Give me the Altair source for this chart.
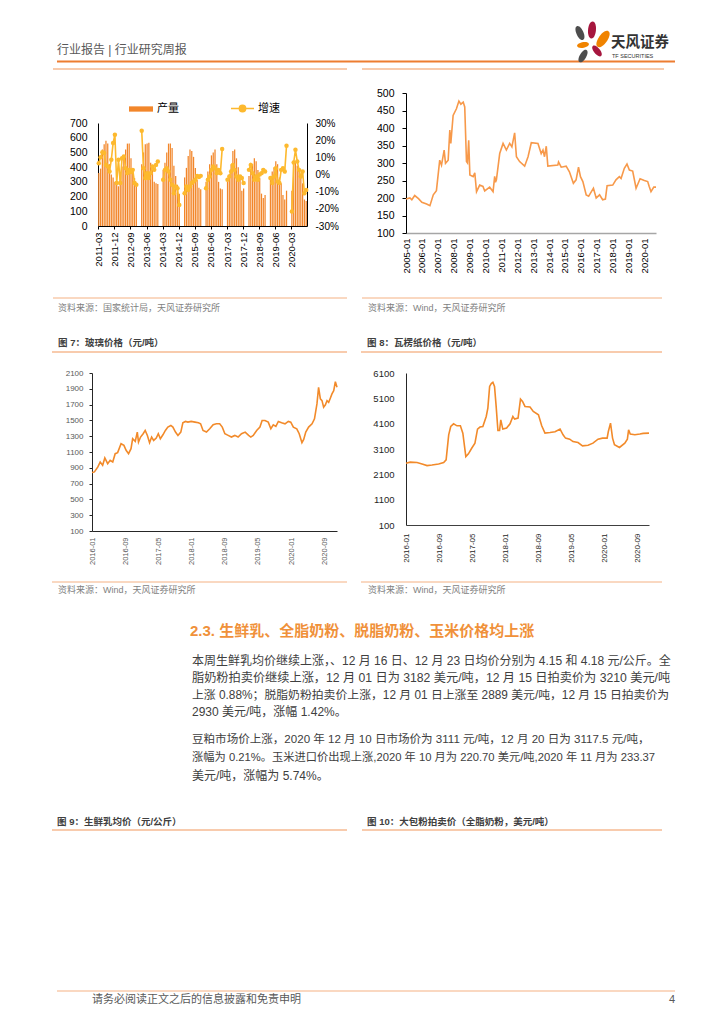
import altair as alt
import pandas as pd

NUM = "Liberation Sans"
MIX = "Liberation Sans, Noto Sans CJK SC"
ORANGE = "#ED7D31"
LIGHT = "#F8CBAD"
SRC_LINE = "#F4B183"

# ---------------- data ----------------
# top-left: 产量 (bars) and 增速 (%, line), monthly 2011-03 .. 2020-11
tl_prod = [
    360, 390, 520, 555, 580, 560, 420, 350, 330, 300,
    300, 270, 360, 405, 475, 520, 560, 560, 460, 380, 325, 290,
    None, None, 420, 500, 555, 560, 565, 430, 380, 300, 290, 285,
    None, None, 380, 430, 500, 560, 560, 530, 410, 340, 280, 220,
    None, None, 330, 395, 475, 520, 510, 470, 395, 315, 260, 250,
    None, None, 300, 370, 420, 480, 500, 520, 420, 300, 255, 250,
    None, None, 300, 350, 420, 510, 520, 460, 400, 320, 240, 255,
    None, None, 340, 380, 420, 460, 440, 380, 330, 220, 190, 210,
    None, None, 330, 370, 400, 440, 420, 330, 290, 210, 180, 240,
    None, None, 240, 420, 430, 410, 380, 330, 290, 180, 170,
]
tl_growth = [
    6.6, 10.0, 12.9, 12.5, 5.6, 4.7, 1.8, 8.6, 18.3, 23.2,
    -5.0, 8.6, -5.0, 9.5, 10.5, 3.7, 0.8, 2.7, 1.5, 2.7, -5.0, -6.0,
    None, None, 25.5, 3.7, -2.1, 0.8, -2.1, 0.8, 4.7, 2.7, 5.6, 7.6,
    None, None, -3.1, 2.7, 3.7, 1.8, -3.1, -6.0, -10.9, -7.0, -8.0, -17.7,
    None, None, -10.9, -7.0, -9.0, -7.0, -5.0, -4.1, -3.1, -0.8, -1.5, -0.8,
    None, None, -8.0, -3.1, -1.2, 2.7, 4.7, 3.7, 0.8, 2.7, 0.8, 14.8,
    None, None, -3.1, -1.2, 1.8, 5.6, 2.7, -1.2, -3.1, -1.2, -2.1, -5.0,
    None, None, 2.7, 5.6, 0.8, -3.1, -1.2, -3.1, 0.0, 0.8, 2.7, 1.8,
    None, None, -2.1, -5.0, -1.2, 3.7, -4.1, -5.0, 2.7, 3.7, 1.8, 16.8,
    None, None, -21.6, 7.0, 14.4, 7.6, 2.7, -1.2, 1.8, -10.9, -9.0,
]
tl_months = list(pd.period_range("2011-03", "2020-11", freq="M").strftime("%Y-%m"))
tl_ticks = ["2011-03", "2011-12", "2012-09", "2013-06", "2014-03", "2014-12", "2015-09",
            "2016-06", "2017-03", "2017-12", "2018-09", "2019-06", "2020-03"]
tl_left_ticks = [0, 100, 200, 300, 400, 500, 600, 700]
tl_right_ticks = [-30, -20, -10, 0, 10, 20, 30]

# top-right: price series 2005-2020
tr_dates = ["2005-01-01", "2005-04-01", "2005-05-15", "2005-07-20", "2005-10-15", "2006-01-01",
            "2006-04-20", "2006-07-05", "2006-09-20", "2006-12-01", "2007-02-15", "2007-03-28",
            "2007-05-28", "2007-06-28", "2007-08-28", "2007-10-05", "2007-10-28", "2007-12-20",
            "2008-03-05", "2008-05-01", "2008-06-15", "2008-08-08", "2008-09-12", "2008-10-22",
            "2008-11-14", "2008-12-12", "2009-01-08", "2009-03-25", "2009-05-01", "2009-06-10",
            "2009-08-22", "2009-11-05", "2009-12-15", "2010-04-08", "2010-06-25", "2010-08-01",
            "2010-08-20", "2010-09-10", "2010-11-25", "2011-02-10", "2011-04-27", "2011-07-12",
            "2011-09-01", "2011-11-03", "2011-12-14", "2012-02-25", "2012-06-20", "2012-09-06",
            "2012-11-20", "2013-04-22", "2013-07-05", "2013-08-15", "2013-09-20", "2013-10-30",
            "2013-12-05", "2014-07-22", "2014-08-08", "2014-10-08", "2015-01-30", "2015-04-15",
            "2015-07-15", "2015-09-15", "2015-11-10", "2015-12-25", "2016-02-18", "2016-05-05",
            "2016-07-01", "2016-10-18", "2016-12-20", "2017-03-08", "2017-05-18", "2017-07-20",
            "2017-08-28", "2018-01-05", "2018-03-20", "2018-06-05", "2018-07-15", "2018-09-28",
            "2018-11-28", "2019-01-22", "2019-04-08", "2019-06-25", "2019-09-25", "2020-01-01",
            "2020-03-18", "2020-04-22", "2020-06-02", "2020-08-05", "2020-09-25"]
tr_price = [197, 200, 195, 207, 198, 188,
            183, 178, 209, 221, 308, 294,
            337, 299, 308, 394, 356, 436,
            455, 477, 468, 474, 460, 304,
            300, 365, 266, 261, 272, 218,
            237, 233, 220, 231, 218, 262,
            245, 252, 327, 356, 337, 356,
            346, 386, 318, 304, 291, 318,
            358, 356, 327, 337, 318, 348,
            291, 294, 303, 288, 291, 275,
            242, 252, 288, 261, 247, 209,
            205, 228, 200, 209, 195, 197,
            235, 237, 252, 261, 256, 285,
            297, 280, 277, 228, 255, 250,
            247, 233, 218, 231, 231]
tr_tick_years = list(range(2005, 2021))
tr_left_ticks = [100, 150, 200, 250, 300, 350, 400, 450, 500]

# figure 7: glass price
g7_dates = ["2016-01-01", "2016-01-19", "2016-02-13", "2016-03-01", "2016-03-19", "2016-04-04",
            "2016-04-25", "2016-05-13", "2016-06-01", "2016-06-19", "2016-07-07", "2016-08-01",
            "2016-08-22", "2016-09-07", "2016-09-25", "2016-10-13", "2016-10-25", "2016-11-13",
            "2016-11-28", "2016-12-07", "2016-12-22", "2017-01-10", "2017-01-25", "2017-02-10",
            "2017-02-26", "2017-03-13", "2017-03-28", "2017-04-16", "2017-05-01", "2017-05-16",
            "2017-06-04", "2017-06-22", "2017-07-10", "2017-08-01", "2017-08-16", "2017-09-04",
            "2017-09-22", "2017-10-13", "2017-10-28", "2017-11-16", "2017-12-04", "2017-12-28",
            "2018-01-25", "2018-02-19", "2018-03-07", "2018-03-25", "2018-04-19", "2018-05-13",
            "2018-06-07", "2018-07-01", "2018-07-25", "2018-08-13", "2018-09-01", "2018-09-25",
            "2018-10-19", "2018-11-13", "2018-12-07", "2019-01-01", "2019-01-28", "2019-02-22",
            "2019-03-10", "2019-03-28", "2019-04-22", "2019-05-16", "2019-06-01", "2019-06-22",
            "2019-07-16", "2019-08-04", "2019-08-22", "2019-09-10", "2019-09-28", "2019-10-22",
            "2019-11-16", "2019-12-10", "2019-12-28", "2020-01-16", "2020-02-10", "2020-02-28",
            "2020-03-19", "2020-04-01", "2020-04-16", "2020-05-07", "2020-06-01", "2020-06-19",
            "2020-07-07", "2020-07-19", "2020-08-01", "2020-08-13", "2020-08-25", "2020-09-07",
            "2020-09-19", "2020-10-01", "2020-10-13", "2020-10-25", "2020-11-07", "2020-11-19",
            "2020-12-01"]
g7_price = [840, 848, 911, 974, 932, 1025,
            953, 995, 974, 1079, 1092, 1205,
            1184, 1121, 1079, 1142, 1268, 1235,
            1352, 1226, 1289, 1331, 1373, 1310,
            1218, 1289, 1247, 1277, 1331, 1268,
            1318, 1373, 1415, 1436, 1415, 1352,
            1310, 1352, 1470, 1487, 1478, 1487,
            1478, 1470, 1457, 1373, 1352, 1394,
            1445, 1457, 1457, 1415, 1331, 1310,
            1289, 1310, 1289, 1331, 1352, 1310,
            1289, 1310, 1373, 1415, 1499, 1499,
            1478, 1394, 1445, 1424, 1487, 1470,
            1457, 1487, 1478, 1415, 1394, 1331,
            1218, 1260, 1352, 1415, 1457, 1520,
            1709, 1919, 1772, 1751, 1667, 1697,
            1751, 1730, 1781, 1835, 1877, 1991,
            1919]
g7_left_ticks = [100, 300, 500, 700, 900, 1100, 1300, 1500, 1700, 1900, 2100]

# figure 8: corrugated paper price
c8_dates = ["2016-01-01", "2016-02-01", "2016-03-22", "2016-04-28", "2016-06-04", "2016-07-10",
            "2016-08-28", "2016-10-04", "2016-10-22", "2016-11-10", "2016-11-25", "2016-12-16",
            "2017-01-10", "2017-02-04", "2017-02-22", "2017-03-16", "2017-04-04", "2017-04-28",
            "2017-05-22", "2017-06-10", "2017-06-28", "2017-07-19", "2017-08-13", "2017-08-25",
            "2017-09-07", "2017-09-19", "2017-10-01", "2017-10-13", "2017-10-25", "2017-11-07",
            "2017-11-19", "2017-11-28", "2017-12-13", "2018-01-10", "2018-02-04", "2018-02-25",
            "2018-03-10", "2018-04-04", "2018-04-22", "2018-05-07", "2018-05-25", "2018-07-01",
            "2018-07-25", "2018-09-01", "2018-09-25", "2018-10-19", "2018-11-25", "2019-01-01",
            "2019-02-07", "2019-03-01", "2019-03-19", "2019-04-19", "2019-05-13", "2019-06-19",
            "2019-07-22", "2019-09-01", "2019-10-07", "2019-11-13", "2019-12-16", "2020-01-19",
            "2020-01-28", "2020-02-13", "2020-02-28", "2020-03-13", "2020-04-19", "2020-05-28",
            "2020-06-16", "2020-06-25", "2020-07-07", "2020-08-10", "2020-09-16", "2020-10-10",
            "2020-11-22"]
c8_price = [2540, 2580, 2565, 2510, 2445, 2470,
            2510, 2565, 2670, 3660, 3990, 4095,
            4015, 4015, 3725, 2800, 2910, 3130,
            3330, 3885, 3965, 3990, 4385, 4715,
            5570, 5680, 5730, 5570, 4780, 3830,
            3830, 4250, 3885, 3925, 4095, 4385,
            4280, 4320, 5070, 4980, 4780, 4755,
            4585, 4450, 4015, 3725, 3750, 3780,
            3885, 3660, 3530, 3490, 3395, 3355,
            3225, 3250, 3330, 3490, 3530, 3530,
            3790, 4120, 3530, 3265, 3160, 3330,
            3490, 3860, 3690, 3660, 3690, 3715,
            3725]
c8_left_ticks = [100, 1100, 2100, 3100, 4100, 5100, 6100]
# x tick months shared by figures 7 and 8
g_tick_months = [(2016, 1), (2016, 9), (2017, 5), (2018, 1), (2018, 9), (2019, 5), (2020, 1), (2020, 9)]

# ---------------- helpers (decorations) ----------------
one = pd.DataFrame({"k": [0]})


def text(x, y, s, size, color, weight="normal", align="left", font=MIX):
    return alt.Chart(one).mark_text(text=s, fontSize=size, color=color, font=font,
                                    fontWeight=weight, align=align, baseline="middle"
                                    ).encode(x=alt.value(x), y=alt.value(y))


def rule(x1, x2, y, color, w):
    return alt.Chart(one).mark_rule(color=color, strokeWidth=w).encode(
        x=alt.value(x1), x2=alt.value(x2), y=alt.value(y))


PETAL = "M0,-1C0.62,-1,0.62,1,0,1C-0.62,1,-0.62,-1,0,-1Z"


def petal(x, y, length, angle, color):
    return alt.Chart(one).mark_point(shape=PETAL, filled=True, size=length * length, angle=angle,
                                     color=color, opacity=1, strokeWidth=0
                                     ).encode(x=alt.value(x), y=alt.value(y))


def dt(y, m=1, d=1):
    return alt.DateTime(year=y, month=m, date=d)


# ---------------- header ----------------
header = alt.layer(
    text(49, 42, "行业报告 | 行业研究周报", 12, "#595959"),
    rule(49, 667, 53.5, ORANGE, 2),
    rule(45, 339, 61, LIGHT, 2),
    rule(354, 656, 61, LIGHT, 2),
    petal(572, 25, 15, 335, "#4D4D4D"),
    petal(584, 22, 17, 5, "#A6163E"),
    petal(595, 31, 19, 35, "#F08300"),
    petal(575, 37, 12, 80, "#F08300"),
    petal(589, 43, 13, 140, "#A6163E"),
    petal(575, 48, 14, 30, "#4D4D4D"),
    text(603, 35, "天风证券", 14.5, "#333333", "bold"),
    text(604, 48, "TF SECURITIES", 5.5, "#333333", font=NUM),
).properties(width=708, height=64)

# ---------------- top-left ----------------
tl_df = pd.DataFrame({"month": tl_months, "prod": tl_prod, "growth": tl_growth})
tl_df["s1"] = "产量"
tl_df["s2"] = "增速"

x_tl = alt.X("month:O", sort=tl_months, title=None,
             scale=alt.Scale(range=[90, 299], paddingInner=0.3, paddingOuter=0.1),
             axis=alt.Axis(values=tl_ticks, labelAngle=-90, orient="bottom", offset=-92,
                           labelFontSize=9.5, labelPadding=3, tickSize=3, labelOverlap=False,
                           domainColor="#000000", tickColor="#000000", labelColor="#000000"))
bars = alt.Chart(tl_df).mark_bar().encode(
    x=x_tl,
    y=alt.Y("prod:Q", title=None,
            scale=alt.Scale(domain=[0, 700], range=[154, 51], nice=False),
            axis=alt.Axis(orient="left", offset=-90, values=tl_left_ticks, labelFontSize=10.5,
                          labelPadding=11, ticks=False, domainColor="#000000", labelColor="#000000")),
    color=alt.Color("s1:N", title=None, scale=alt.Scale(range=["#F2862A"]),
                    legend=alt.Legend(orient="none", legendX=120, legendY=24, padding=0,
                                      symbolType="M-1,-0.22L1,-0.22L1,0.22L-1,0.22Z", symbolSize=576,
                                      labelFont=MIX, labelFontSize=11, labelColor="#000000",
                                      labelOffset=3)),
)
gline = alt.Chart(tl_df).mark_line(strokeWidth=1.6, point=alt.OverlayMarkDef(filled=True, size=20)).encode(
    x=x_tl,
    y=alt.Y("growth:Q", title=None,
            scale=alt.Scale(domain=[-30, 30], range=[154, 51], nice=False),
            axis=alt.Axis(orient="right", offset=-50, values=tl_right_ticks, labelFontSize=10,
                          labelExpr="datum.value + '%'", labelPadding=8, ticks=False,
                          domainColor="#000000", labelColor="#000000")),
    color=alt.Color("s2:N", title=None, scale=alt.Scale(range=["#FDB92E"]),
                    legend=alt.Legend(orient="none", legendX=222, legendY=24, padding=0,
                                      symbolType="M-1,0L1,0M0.27,0A0.27,0.27,0,1,1,-0.27,0A0.27,0.27,0,1,1,0.27,0",
                                      symbolSize=529, symbolStrokeWidth=1.6, symbolFillColor="#FDB92E",
                                      labelFont=MIX, labelFontSize=11, labelColor="#000000",
                                      labelOffset=3)),
)
top_left = alt.layer(
    bars, gline,
    rule(45, 339, 226, SRC_LINE, 1),
    text(50, 236, "资料来源：国家统计局，天风证券研究所", 9, "#7F7F7F"),
).resolve_scale(y="independent", color="independent").properties(width=349, height=246)

# ---------------- top-right ----------------
tr_df = pd.DataFrame({"date": tr_dates, "price": tr_price})
tr_line = alt.Chart(tr_df).mark_line(color="#F7994A", strokeWidth=1.6).encode(
    x=alt.X("date:T", title=None, scale=alt.Scale(range=[49, 299]),
            axis=alt.Axis(values=[dt(y) for y in tr_tick_years], format="%Y-%m", labelAngle=-90,
                          offset=-85, labelFontSize=9.5, labelPadding=5, ticks=False,
                          labelFlush=False, labelOverlap=False, domainColor="#A6A6A6",
                          domainWidth=1.5, labelColor="#000000")),
    y=alt.Y("price:Q", title=None,
            scale=alt.Scale(domain=[100, 500], range=[161, 21], nice=False, zero=False),
            axis=alt.Axis(offset=-49, values=tr_left_ticks, labelFontSize=10.5, labelPadding=8,
                          tickSize=4, tickColor="#000000", domainColor="#000000", labelColor="#000000")),
)
top_right = alt.layer(
    tr_line,
    rule(5, 305, 226, SRC_LINE, 1),
    text(11, 236, "资料来源：Wind，天风证券研究所", 9, "#7F7F7F"),
).properties(width=359, height=246)

# ---------------- figure 7 ----------------
g7_df = pd.DataFrame({"date": g7_dates, "price": g7_price})
g7_line = alt.Chart(g7_df).mark_line(color="#F28A2A", strokeWidth=1.6).encode(
    x=alt.X("date:T", title=None, scale=alt.Scale(range=[84, 329]),
            axis=alt.Axis(values=[dt(y, m) for y, m in g_tick_months], format="%Y-%m", labelAngle=-90,
                          offset=-67, labelFontSize=7.5, labelPadding=6, ticks=False,
                          labelFlush=False, labelOverlap=False, domainColor="#262626",
                          labelColor="#595959")),
    y=alt.Y("price:Q", title=None,
            scale=alt.Scale(domain=[100, 2100], range=[213, 55], nice=False, zero=False),
            axis=alt.Axis(offset=-84, values=g7_left_ticks, format="d", labelFontSize=8, labelPadding=6,
                          tickSize=3, tickColor="#262626", domainColor="#262626", labelColor="#595959")),
)
fig7 = alt.layer(
    text(50, 25, "图 7：玻璃价格（元/吨）", 9.5, "#404040", "bold"),
    rule(44, 339, 34, LIGHT, 2),
    g7_line,
    rule(44, 339, 264, SRC_LINE, 1),
    text(50, 272, "资料来源：Wind，天风证券研究所", 9, "#7F7F7F"),
).properties(width=349, height=280)

# ---------------- figure 8 ----------------
c8_df = pd.DataFrame({"date": c8_dates, "price": c8_price})
c8_line = alt.Chart(c8_df).mark_line(color="#F28A2A", strokeWidth=1.6).encode(
    x=alt.X("date:T", title=None, scale=alt.Scale(range=[49, 292]),
            axis=alt.Axis(values=[dt(y, m) for y, m in g_tick_months], format="%Y-%m", labelAngle=-90,
                          offset=-73, labelFontSize=8, labelPadding=8, ticks=False,
                          labelFlush=False, labelOverlap=False, domainColor="#404040",
                          labelColor="#262626")),
    y=alt.Y("price:Q", title=None,
            scale=alt.Scale(domain=[100, 6100], range=[207, 55], nice=False, zero=False),
            axis=alt.Axis(offset=-49, values=c8_left_ticks, format="d", labelFontSize=9.5, labelPadding=12,
                          ticks=False, domainColor="#262626", labelColor="#262626")),
)
fig8 = alt.layer(
    text(10, 25, "图 8：瓦楞纸价格（元/吨）", 9.5, "#404040", "bold"),
    rule(4, 305, 34, LIGHT, 2),
    c8_line,
    rule(4, 305, 264, SRC_LINE, 1),
    text(11, 272, "资料来源：Wind，天风证券研究所", 9, "#7F7F7F"),
).properties(width=359, height=280)

# ---------------- body text ----------------
para1 = ["本周生鲜乳均价继续上涨，、12 月 16 日、12 月 23 日均价分别为 4.15 和 4.18 元/公斤。全",
         "脂奶粉拍卖价继续上涨，12 月 01 日为 3182 美元/吨，12 月 15 日拍卖价为 3210 美元/吨",
         "上涨 0.88%；脱脂奶粉拍卖价上涨，12 月 01 日上涨至 2889 美元/吨，12 月 15 日拍卖价为",
         "2930 美元/吨，涨幅 1.42%。"]
para1_sizes = [12, 12.2, 11.85, 12]
para2 = ["豆粕市场价上涨，2020 年 12 月 10 日市场价为 3111 元/吨，12 月 20 日为 3117.5 元/吨，",
         "涨幅为 0.21%。玉米进口价出现上涨,2020 年 10 月为 220.70 美元/吨,2020 年 11 月为 233.37",
         "美元/吨，涨幅为 5.74%。"]
para2_sizes = [11.55, 11.25, 12]
body_layers = [text(182, 33, "2.3. 生鲜乳、全脂奶粉、脱脂奶粉、玉米价格均上涨", 15, "#F0913A", "bold")]
for i, ln in enumerate(para1):
    body_layers.append(text(184, 62.7 + 17.2 * i, ln, para1_sizes[i], "#404040"))
for i, ln in enumerate(para2):
    body_layers.append(text(184, 142 + 17.9 * i, ln, para2_sizes[i], "#404040"))
body_layers += [
    text(49, 224, "图 9：生鲜乳均价（元/公斤）", 9.5, "#404040", "bold"),
    rule(44, 339, 232, LIGHT, 2),
    text(359, 224, "图 10：大包粉拍卖价（全脂奶粉，美元/吨）", 9.5, "#404040", "bold"),
    rule(354, 654, 232, LIGHT, 2),
    rule(49, 667, 393, LIGHT, 1.5),
    text(84, 402, "请务必阅读正文之后的信息披露和免责申明", 11, "#595959"),
    text(661, 402, "4", 11, "#595959", font=NUM),
]
body = alt.layer(*body_layers).properties(width=708, height=418)

row2 = alt.hconcat(top_left, top_right, spacing=0)
row3 = alt.hconcat(fig7, fig8, spacing=0)

chart = alt.vconcat(header, row2, row3, body, spacing=0).properties(
    padding=0, background="white"
).configure_view(strokeWidth=0).configure_axis(
    grid=False, labelFont=NUM, domainWidth=1
).configure_concat(spacing=0)

chart.save("out.html", embed_options={"renderer": "svg", "actions": False})
